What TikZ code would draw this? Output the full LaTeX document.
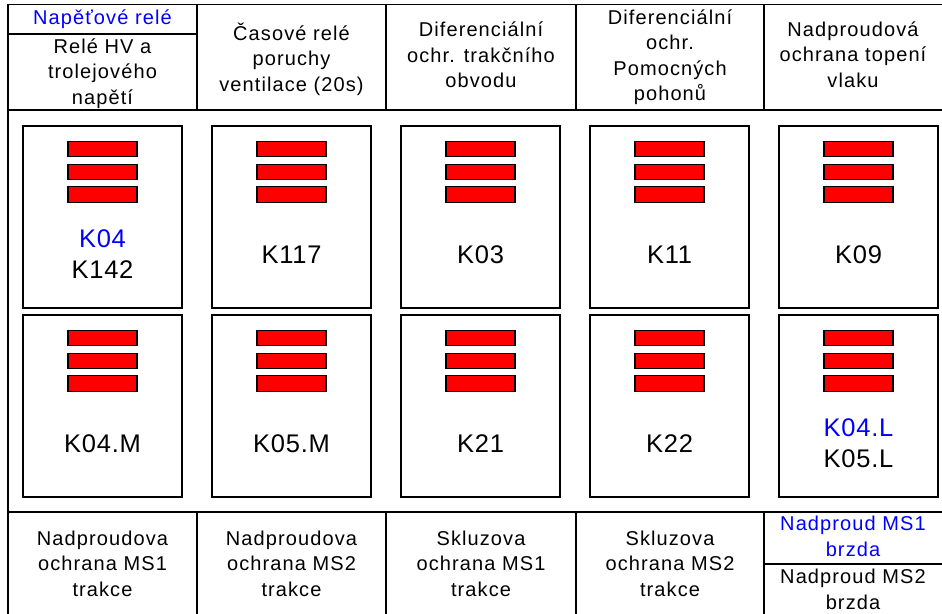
\documentclass[tikz,border=0pt]{standalone}
\usepackage{fontspec}
\setmainfont{Liberation Sans}
\newfontfamily\hfont{Liberation Sans}[LetterSpace=5.5]
\newfontfamily\kfont{Liberation Sans}[LetterSpace=3]
\definecolor{relred}{HTML}{FF0000}
\definecolor{relblue}{HTML}{0000FF}
\tikzset{
  frame/.style={line width=1.8pt, line cap=rect},
  hdr/.style={font=\hfont\fontsize{20}{25.5}\selectfont, align=center, inner sep=0pt},
  klab/.style={font=\kfont\fontsize{25.5}{31}\selectfont, align=center, inner sep=0pt},
  relbox/.style={draw, line width=1.4pt, minimum width=159pt, minimum height=182pt, inner sep=0pt},
  bar/.style={draw, line width=1.3pt, fill=relred, minimum width=69pt, minimum height=15.5pt, inner sep=0pt},
}
\begin{document}
\begin{tikzpicture}[x=1pt,y=-1pt]
\useasboundingbox (0,0) rectangle (942,613);
% outer frame and grid
\draw[frame] (8,613) -- (8,4.5) -- (942,4.5);
\draw[frame] (8,110) -- (942,110);
\draw[frame] (8,512) -- (942,512);
\foreach \x in {197,386,576,764} {
  \draw[frame] (\x,4.5) -- (\x,110);
  \draw[frame] (\x,512) -- (\x,613);
}
\draw[frame] (8,34) -- (197,34);
\draw[frame] (764,564) -- (942,564);
% header texts
\node[hdr, text=relblue] (h1a) at (102.5,19.5) {Napěťové relé};
\node[hdr] (h1b) at (102.5,73.5) {Relé HV a\\trolejového\\napětí};
\node[hdr] (h2) at (291.5,59) {Časové relé\\poruchy\\ventilace (20s)};
\node[hdr] (h3) at (481,55) {Diferenciální\\ochr. trakčního\\obvodu};
\node[hdr] (h4) at (670,57.2) {Diferenciální\\ochr.\\Pomocných\\pohonů};
\node[hdr] (h5) at (853,54.5) {Nadproudová\\ochrana topení\\vlaku};
% bottom texts
\node[hdr] (f1) at (102.5,563.5) {Nadproudova\\ochrana MS1\\trakce};
\node[hdr] (f2) at (291.5,563.5) {Nadproudova\\ochrana MS2\\trakce};
\node[hdr] (f3) at (481,563.5) {Skluzova\\ochrana MS1\\trakce};
\node[hdr] (f4) at (670,563.5) {Skluzova\\ochrana MS2\\trakce};
\node[hdr, text=relblue] (f5a) at (853,536.5) {Nadproud MS1\\brzda};
\node[hdr] (f5b) at (853,589.5) {Nadproud MS2\\brzda};
% relay boxes
\foreach \i/\cx in {1/102.5,2/291.5,3/480.5,4/669.5,5/858.5} {
  \foreach \j/\ty in {1/126,2/315} {
    \node[relbox] (b\i\j) at (\cx,\ty+91) {};
    \node[bar] (r\i\j a) at (\cx,\ty+23) {};
    \node[bar] (r\i\j b) at (\cx,\ty+46) {};
    \node[bar] (r\i\j c) at (\cx,\ty+68.5) {};
  }
}
\node[klab] (k11) at (102.5,254.5) {\textcolor{relblue}{K04}\\K142};
\node[klab] (k21) at (291.5,254.5) {K117};
\node[klab] (k31) at (480.5,254.5) {K03};
\node[klab] (k41) at (669.5,254.5) {K11};
\node[klab] (k51) at (858.5,254.5) {K09};
\node[klab] (k12) at (102.5,443.5) {K04.M};
\node[klab] (k22) at (291.5,443.5) {K05.M};
\node[klab] (k32) at (480.5,443.5) {K21};
\node[klab] (k42) at (669.5,443.5) {K22};
\node[klab] (k52) at (858.5,443.5) {\textcolor{relblue}{K04.L}\\K05.L};
\end{tikzpicture}
\end{document}
